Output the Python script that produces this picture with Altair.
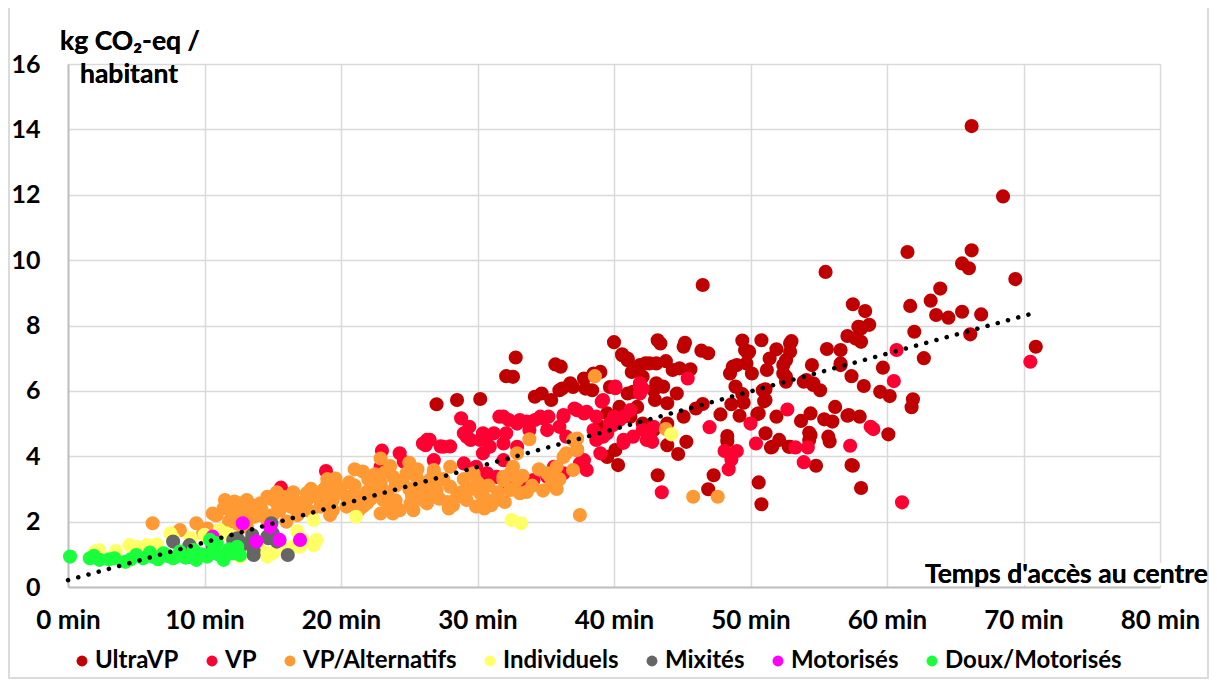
import altair as alt
import pandas as pd

categories = ["UltraVP", "VP", "VP/Alternatifs", "Individuels", "Mixités", "Motorisés", "Doux/Motorisés"]
colors = ["#C00000", "#FF0033", "#FF9933", "#FFFF66", "#666666", "#FF00FF", "#19FF3C"]

ultravp = [
    (66.2, 14.1), (68.5, 11.95), (61.5, 10.25), (66.2, 10.3), (65.5, 9.9), (66.0, 9.75), (55.5, 9.64),
    (69.4, 9.42), (46.5, 9.24), (63.9, 9.13), (63.2, 8.76), (61.7, 8.6), (57.5, 8.65), (58.4, 8.44),
    (63.6, 8.32), (64.5, 8.24), (65.5, 8.42), (66.9, 8.34), (58.0, 7.95), (58.7, 8.02), (57.9, 7.96),
    (62.0, 7.81), (66.1, 7.73), (57.1, 7.68), (57.7, 7.6), (58.1, 7.5), (70.9, 7.35), (55.6, 7.28),
    (56.6, 7.25), (62.7, 7.0), (56.6, 6.79), (59.7, 6.71), (54.5, 6.79), (57.4, 6.45), (58.3, 6.15),
    (60.2, 5.84), (61.9, 5.74), (61.8, 5.5), (60.1, 4.67), (58.1, 3.03), (57.5, 3.71), (58.0, 5.21),
    (57.1, 5.24), (56.2, 5.51), (55.4, 5.13), (56.0, 5.06), (55.7, 4.6), (55.8, 4.45), (54.8, 3.71),
    (54.3, 4.72), (54.3, 4.5), (53.7, 5.08), (52.8, 4.29), (52.1, 4.5), (51.5, 4.27), (51.9, 5.21),
    (50.8, 2.53), (50.6, 3.2), (50.5, 5.29), (51.0, 5.68), (51.1, 6.05), (51.1, 4.7), (49.2, 5.24),
    (49.5, 5.64), (49.4, 5.9), (48.9, 6.13), (48.6, 5.59), (48.3, 4.62), (48.3, 4.46), (47.8, 5.28),
    (47.3, 3.42), (46.9, 2.99), (43.2, 3.42), (44.7, 4.07), (43.9, 4.34), (45.3, 4.44), (45.1, 5.21),
    (46.0, 5.46), (46.5, 5.6), (40.0, 7.49), (43.2, 7.55), (43.4, 7.45), (45.2, 7.47), (45.1, 7.35),
    (46.4, 7.23), (46.9, 7.15), (49.4, 7.54), (50.8, 7.55), (53.0, 7.52), (52.9, 7.2), (51.9, 7.27),
    (49.6, 7.25), (49.9, 7.2), (40.6, 7.12), (41.0, 6.94), (42.3, 6.84), (43.1, 6.84), (43.8, 6.91),
    (41.3, 6.58), (42.1, 6.43), (44.3, 6.64), (44.8, 6.69), (45.6, 6.66), (48.5, 6.53), (49.0, 6.79),
    (49.7, 6.84), (50.1, 6.53), (51.2, 6.64), (51.4, 6.99), (52.4, 6.79), (52.6, 6.43), (53.9, 6.28),
    (54.6, 6.18), (55.1, 6.02), (50.9, 6.02), (51.1, 5.72), (43.1, 6.23), (43.6, 6.13), (44.6, 5.92),
    (43.0, 5.72), (43.9, 5.62), (40.3, 3.73), (40.1, 4.19), (39.5, 3.98), (41.2, 5.21), (42.1, 5.0),
    (42.9, 4.8), (43.9, 5.0), (32.8, 7.02), (32.1, 6.45), (32.6, 6.43), (27.0, 5.59), (28.5, 5.72),
    (30.2, 5.75), (35.7, 6.81), (36.1, 6.74), (40.6, 7.09), (41.0, 6.99), (37.8, 6.38), (38.5, 6.53),
    (39.0, 6.58), (41.9, 6.79), (42.6, 6.84), (36.2, 6.07), (37.0, 6.12), (35.4, 5.72), (34.2, 5.82),
    (34.7, 5.92), (37.9, 6.07), (38.4, 6.02), (39.7, 6.12), (41.0, 5.92), (41.9, 6.13), (42.9, 6.02),
    (40.4, 5.51), (39.5, 5.31), (39.0, 4.9), (36.8, 6.23), (36.0, 6.02), (41.4, 5.97), (41.7, 5.51),
    (48.7, 6.74), (49.8, 7.15), (52.6, 6.94), (52.9, 7.45), (52.4, 6.53), (52.6, 6.28), (50.6, 5.31),
    (51.6, 4.29), (52.9, 4.29), (54.4, 5.31), (54.6, 6.23), (54.1, 6.33), (56.6, 6.84), (59.5, 5.97),
    (57.2, 5.26), (57.4, 3.73), (54.4, 4.65), (58.1, 7.91),
]

vp = [
    (70.5, 6.89), (60.7, 7.25), (60.5, 6.3), (61.1, 2.59), (57.3, 4.32), (58.8, 4.9), (59.0, 4.83),
    (53.9, 3.82), (54.2, 4.27), (53.3, 4.27), (52.7, 5.43), (50.4, 4.39), (50.0, 5.0), (48.1, 4.16),
    (49.0, 4.16), (48.6, 3.9), (48.4, 3.6), (47.0, 4.89), (43.5, 2.9), (45.4, 6.38), (41.9, 6.13),
    (41.2, 5.41), (40.1, 6.13), (42.8, 4.44), (40.7, 4.41), (39.2, 4.6), (39.7, 5.0), (39.1, 5.67),
    (40.1, 6.08), (40.4, 5.11), (41.9, 5.92), (28.8, 5.16), (29.4, 4.9), (31.6, 5.21), (32.3, 5.11),
    (33.1, 5.11), (33.6, 5.06), (34.2, 5.11), (34.8, 5.16), (35.2, 5.21), (36.3, 5.26), (37.1, 5.46),
    (38.0, 5.36), (38.7, 5.21), (39.9, 4.95), (40.7, 5.21), (41.4, 4.6), (42.4, 4.5), (26.3, 4.5),
    (27.3, 4.3), (28.0, 4.3), (29.2, 4.6), (30.2, 4.5), (30.7, 4.6), (31.2, 4.7), (32.1, 4.7),
    (32.9, 5.0), (33.8, 4.8), (35.1, 4.8), (36.0, 4.9), (36.5, 4.6), (37.3, 4.19), (38.5, 4.8),
    (39.5, 4.7), (29.0, 3.78), (29.9, 3.68), (30.7, 3.48), (31.4, 3.37), (32.1, 3.07), (33.1, 3.17),
    (34.1, 3.27), (35.1, 3.37), (35.6, 3.68), (36.3, 3.48), (37.5, 3.78), (38.0, 3.58), (15.6, 3.04),
    (18.9, 3.55), (23.0, 4.17), (24.3, 4.09), (24.6, 3.83), (22.9, 3.68), (26.2, 4.34), (26.5, 4.5),
    (26.8, 3.88), (26.0, 4.39), (27.5, 4.29), (29.0, 4.7), (30.4, 4.7), (31.9, 5.21), (34.6, 5.21),
    (36.3, 5.21), (37.3, 5.41), (37.8, 5.31), (39.2, 5.72), (41.9, 6.23), (40.0, 5.21), (39.0, 4.09),
    (37.8, 3.88), (38.7, 4.5), (40.7, 4.5), (29.5, 4.5), (30.9, 4.29), (31.9, 4.39), (32.9, 4.29),
    (30.4, 4.09), (31.9, 3.88), (33.8, 3.07), (42.1, 6.07), (42.9, 4.9), (42.6, 4.6), (42.1, 4.8),
]

vp_alternatifs = [
    (6.2, 1.95), (38.6, 6.45), (43.8, 4.83), (45.8, 2.76), (47.6, 2.76), (37.5, 2.2), (33.8, 4.52),
    (21.6, 3.53), (19.6, 3.32), (22.9, 3.93), (12.2, 2.61), (11.4, 2.41), (10.8, 2.2), (14.7, 2.71),
    (14.2, 2.35), (8.2, 1.74), (18.0, 2.87), (18.7, 2.97), (19.7, 2.91), (20.4, 2.76), (20.9, 2.81),
    (21.9, 2.91), (22.9, 3.17), (23.8, 3.37), (24.8, 3.48), (25.5, 3.37), (26.8, 3.58), (15.5, 2.35),
    (16.3, 2.46), (17.5, 2.35), (18.5, 2.46), (19.4, 2.35), (20.4, 2.46), (21.6, 2.46), (22.9, 2.25),
    (23.8, 2.25), (25.3, 2.35), (26.3, 2.56), (13.6, 2.15), (14.6, 2.05), (13.1, 1.84), (9.4, 1.95),
    (10.2, 1.79), (10.9, 2.2), (12.1, 2.51), (11.5, 2.66), (13.1, 2.66), (14.1, 2.56), (14.8, 2.71),
    (37.0, 4.5), (37.3, 4.19), (36.3, 3.98), (35.8, 3.68), (37.0, 3.58), (35.3, 3.37), (35.4, 3.12),
    (32.9, 4.09), (32.6, 3.68), (31.9, 3.37), (32.4, 2.97), (33.1, 2.87), (33.6, 2.91), (31.4, 2.66),
    (30.4, 2.76), (29.9, 2.46), (29.2, 2.66), (28.5, 2.76), (28.0, 3.07), (27.0, 2.97), (26.5, 3.27),
    (26.0, 2.66), (25.1, 2.56), (24.3, 2.35), (23.6, 2.46), (23.1, 2.66), (22.6, 2.97), (21.6, 2.76),
    (20.9, 2.66), (19.4, 2.66), (18.9, 3.07), (18.2, 2.76), (17.5, 2.66), (17.0, 2.46), (37.3, 4.54),
    (36.5, 4.09), (35.1, 3.48), (31.9, 3.27), (32.4, 3.48), (32.9, 3.27), (29.7, 3.48), (30.2, 2.87),
    (30.7, 2.66), (28.0, 3.68), (26.8, 3.48), (26.8, 3.07), (26.3, 2.76), (15.0, 2.2), (16.0, 2.0),
    (16.8, 2.2), (17.2, 2.6), (15.8, 2.75), (16.5, 2.9), (17.8, 3.0), (19.0, 2.8), (19.8, 3.05),
    (21.0, 3.1), (22.0, 3.3), (23.2, 3.5), (24.0, 3.1), (25.0, 3.0), (25.8, 3.2), (27.5, 3.3),
    (28.2, 2.5), (29.5, 3.0), (30.8, 3.1), (31.0, 2.5), (27.8, 2.6), (12.8, 2.3), (13.5, 2.5),
    (11.8, 2.0), (12.5, 1.9), (9.9, 1.64), (10.6, 1.64), (10.6, 2.25), (12.6, 2.56), (13.6, 2.46),
    (14.6, 2.76), (15.3, 2.56), (17.0, 2.56), (17.5, 2.87), (19.4, 3.07), (20.7, 2.76), (21.9, 2.56),
    (23.1, 2.76), (17.8, 2.3), (18.6, 2.6), (19.2, 2.2), (20.0, 2.9), (20.6, 3.2), (21.3, 2.35),
    (22.2, 2.7), (22.5, 3.45), (23.4, 2.9), (24.0, 2.65), (24.5, 3.25), (25.2, 2.8), (25.6, 3.6),
    (26.0, 3.0), (27.2, 2.7), (27.9, 2.4), (28.8, 2.9), (29.0, 3.3), (30.0, 3.2), (30.5, 2.4),
    (31.5, 2.9), (32.0, 2.6), (33.3, 3.4), (34.0, 3.1), (34.5, 3.6), (35.8, 3.0), (36.0, 3.3),
    (34.8, 2.95), (19.0, 3.3), (21.0, 3.6), (23.6, 3.7), (25.0, 3.8), (16.2, 2.6), (15.3, 2.9),
    (14.0, 2.2), (12.0, 2.2),
]

individuels = [
    (2.0, 1.08), (2.3, 1.12), (4.5, 1.28), (5.0, 1.23), (5.8, 1.28), (7.5, 1.64), (7.7, 1.49),
    (11.1, 1.74), (11.6, 1.64), (12.1, 1.54), (13.1, 1.34), (14.1, 1.13), (15.0, 1.03), (16.0, 1.13),
    (17.0, 1.23), (18.0, 1.28), (18.2, 1.44), (12.6, 0.93), (14.6, 0.93), (18.0, 2.05), (21.1, 2.15),
    (32.5, 2.05), (33.2, 1.95), (44.2, 4.67), (16.5, 1.23), (17.2, 1.44), (13.6, 1.08), (14.6, 1.03),
    (9.0, 1.5), (10.0, 1.6), (3.5, 1.1), (6.5, 1.3), (15.5, 1.4), (16.8, 1.7), (11.0, 1.1),
]

mixites = [
    (7.7, 1.39), (8.9, 1.28), (12.4, 1.49), (12.6, 1.23), (13.5, 1.59), (13.6, 1.13), (14.9, 1.95),
    (14.7, 1.49), (16.1, 0.98), (10.6, 1.23), (15.3, 1.39), (8.9, 0.93), (12.1, 1.44), (13.1, 1.34),
    (14.6, 1.54), (15.0, 1.64), (13.6, 0.98),
]

motorises = [(12.8, 1.95), (14.8, 1.84), (13.8, 1.39), (15.5, 1.44), (17.0, 1.44), (10.6, 1.54)]

doux_motorises = [
    (0.15, 0.93), (1.6, 0.88), (2.3, 0.83), (3.4, 0.88), (4.2, 0.77), (5.0, 0.98), (5.5, 0.88),
    (6.2, 0.93), (7.0, 1.03), (7.7, 0.88), (8.2, 1.08), (9.2, 1.13), (9.4, 0.83), (10.2, 0.93),
    (10.6, 1.08), (11.4, 0.83), (12.1, 1.03), (12.6, 0.98), (10.4, 1.44), (10.9, 1.34), (12.4, 1.23),
    (1.9, 0.95), (3.0, 0.85), (4.6, 0.85), (6.0, 1.05), (6.6, 0.85), (8.6, 0.9), (9.8, 1.0),
    (11.0, 1.0), (11.8, 1.15), (8.0, 0.95), (7.3, 0.95),
]

trend_x = [0.0, 70.5]
trend_y = [0.21, 8.35]

x_ticks = [0, 10, 20, 30, 40, 50, 60, 70, 80]
y_ticks = [0, 2, 4, 6, 8, 10, 12, 14, 16]

series = [ultravp, vp, vp_alternatifs, individuels, mixites, motorises, doux_motorises]
rows = []
for cat, pts in zip(categories, series):
    for x, y in pts:
        rows.append({"temps": x, "co2": y, "type": cat})
points_df = pd.DataFrame(rows)
trend_df = pd.DataFrame({"temps": trend_x, "co2": trend_y})

FONT = "Lato"

x_enc = alt.X(
    "temps:Q",
    scale=alt.Scale(domain=[0, 80], nice=False, zero=False),
    axis=alt.Axis(
        values=x_ticks, labelExpr="datum.value + ' min'", title=None, grid=True,
        gridColor="#d9d9d9", gridWidth=1.5, domainColor="#bfbfbf", domainWidth=2,
        ticks=False, labelFont=FONT, labelFontWeight="bold", labelFontSize=26,
        labelColor="#000000", labelPadding=20, labelFlush=False, labelOverlap=False,
    ),
)
y_enc = alt.Y(
    "co2:Q",
    scale=alt.Scale(domain=[0, 16], nice=False),
    axis=alt.Axis(
        values=y_ticks, title=None, grid=True, gridColor="#d9d9d9", gridWidth=1.5,
        domainColor="#bfbfbf", domainWidth=2, ticks=False, labelFont=FONT,
        labelFontWeight="bold", labelFontSize=25, labelColor="#000000", labelPadding=28,
        labelOverlap=False,
    ),
)

points = alt.Chart(points_df).mark_circle(size=200, opacity=1).encode(
    x=x_enc,
    y=y_enc,
    color=alt.Color(
        "type:N",
        scale=alt.Scale(domain=categories, range=colors),
        legend=alt.Legend(
            orient="none", legendX=2, legendY=585, direction="horizontal", title=None,
            symbolType="circle", symbolSize=120, labelFont=FONT, labelFontWeight="bold",
            labelFontSize=24, labelColor="#000000", columnPadding=21, labelOffset=1,
            symbolStrokeWidth=0, labelLimit=0,
        ),
    ),
)

trend = alt.Chart(trend_df).mark_line(
    color="black", strokeWidth=4.5, strokeDash=[0.1, 10.5], strokeCap="round"
).encode(x="temps:Q", y="co2:Q")

frame = alt.Chart(trend_df).mark_rect(fill="white", fillOpacity=0, stroke="#d9d9d9", strokeWidth=1.5).encode(
    x=alt.value(-59), x2=alt.value(1140), y=alt.value(-57), y2=alt.value(614)
)

title_style = dict(font=FONT, fontWeight="bold", fontSize=26.5, color="#000000")
ytitle1 = alt.Chart(trend_df).mark_text(text="kg CO₂-eq /", align="center", baseline="alphabetic", **title_style).encode(
    x=alt.value(62), y=alt.value(-14)
)
ytitle2 = alt.Chart(trend_df).mark_text(text="habitant", align="center", baseline="alphabetic", **title_style).encode(
    x=alt.value(61), y=alt.value(19)
)
xtitle_bg = alt.Chart(trend_df).mark_rect(fill="white").encode(
    x=alt.value(848), x2=alt.value(1139), y=alt.value(499), y2=alt.value(521)
)
xtitle = alt.Chart(trend_df).mark_text(text="Temps d'accès au centre", align="right", baseline="alphabetic", **title_style).encode(
    x=alt.value(1140), y=alt.value(519)
)

chart = alt.layer(frame, points, trend, xtitle_bg, xtitle, ytitle1, ytitle2).properties(
    width=1092, height=523,
    padding={"left": 60, "top": 56, "right": 49, "bottom": 93},
    autosize=alt.AutoSizeParams(type="none"),
).configure_view(stroke=None).configure(background="white")

chart.save("out.html", embed_options={"renderer": "svg", "actions": False})
